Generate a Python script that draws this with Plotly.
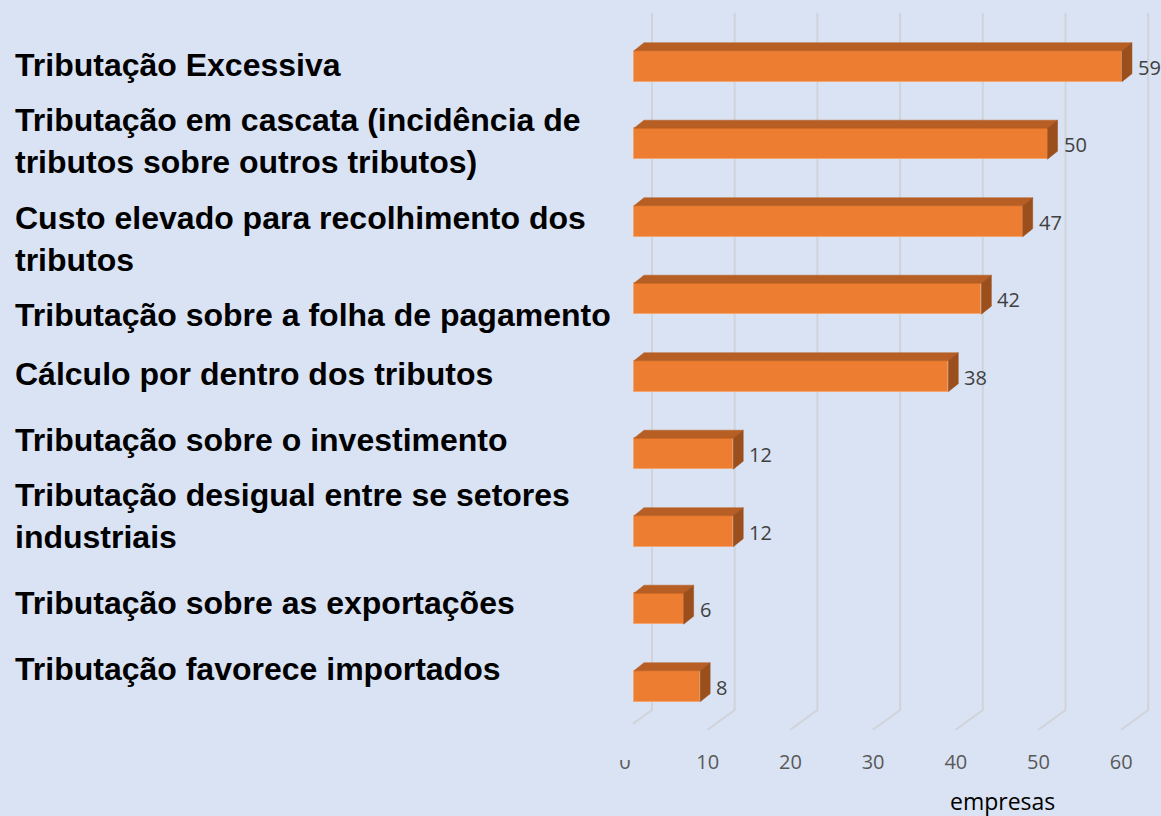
import plotly.graph_objects as go

# ---------------- data ----------------
categories = [
    "Tributação Excessiva",
    "Tributação em cascata (incidência de<br>tributos sobre outros tributos)",
    "Custo elevado para recolhimento dos<br>tributos",
    "Tributação sobre a folha de pagamento",
    "Cálculo por dentro dos tributos",
    "Tributação sobre o investimento",
    "Tributação desigual entre se setores<br>industriais",
    "Tributação sobre as exportações",
    "Tributação favorece importados",
]
values = [59, 50, 47, 42, 38, 12, 12, 6, 8]
x_ticks = [0, 10, 20, 30, 40, 50, 60]
x_title = "empresas"

# ---------------- layout constants ----------------
W, H = 1161, 816
BG = "#DAE3F3"
dom_left_px = 633
plot_bottom_px = 730
x_range = [-0.12, 63.72]
y_range = [8.565, -0.854]          # reversed: first category on top
ux = (W - dom_left_px) / (x_range[1] - x_range[0])     # px per x unit
uy = plot_bottom_px / (y_range[0] - y_range[1])         # px per y unit

bar_w = 0.4
depth_dx = 10 / ux
depth_dy = 8 / uy
label_nudge = [1, 3, -18, -16, 2, 14, 15, 6, 17]


def py(px):  # pixel row -> y data value
    return y_range[1] + px / uy


def paper_y(px):  # pixel row -> paper fraction (plot area is 0..plot_bottom_px)
    return 1 - px / plot_bottom_px


idx = list(range(len(values)))

# gridlines (back wall + floor) as shapes below the bars
shapes = []
for t in x_ticks:
    bx = t + 18 / ux
    fx = t - 9.5 / ux
    shapes.append(dict(type="path", xref="x", yref="y", layer="below",
                       path=f"M{bx},{py(13)} L{bx},{py(710)} L{fx},{py(730)}",
                       line=dict(color="#D0D3D9", width=2)))

# top & side faces of pseudo-3D bars
tx, ty, sx, sy = [], [], [], []
for i, v in zip(idx, values):
    top = i - bar_w / 2
    bot = i + bar_w / 2
    tx += [0, v, v + depth_dx, depth_dx, 0, None]
    ty += [top, top, top - depth_dy, top - depth_dy, top, None]
    sx += [v, v + depth_dx, v + depth_dx, v, v, None]
    sy += [top, top - depth_dy, bot - depth_dy, bot, top, None]

fig = go.Figure()
fig.add_trace(go.Bar(x=values, y=idx, orientation="h", width=bar_w,
                     marker=dict(color="#ED7D31", line=dict(color="#F2A570", width=1)),
                     hoverinfo="x", showlegend=False))
fig.add_trace(go.Scatter(x=tx, y=ty, mode="lines", fill="toself",
                         fillcolor="#B65E23", line=dict(color="#B65E23", width=0.5),
                         hoverinfo="skip", showlegend=False))
fig.add_trace(go.Scatter(x=sx, y=sy, mode="lines", fill="toself",
                         fillcolor="#9A4F1D", line=dict(color="#9A4F1D", width=0.5),
                         hoverinfo="skip", showlegend=False))

annotations = []
for i, v in zip(idx, values):
    annotations.append(dict(x=v, y=i, xref="x", yref="y", text=str(v),
                            showarrow=False, xanchor="left", yanchor="middle",
                            xshift=14, yshift=-1,
                            font=dict(family="Open Sans", size=20, color="#404040")))
for i, (c, n) in enumerate(zip(categories, label_nudge)):
    annotations.append(dict(x=13 / W, y=i, xref="paper", yref="y", text=c,
                            showarrow=False, xanchor="left", yanchor="middle",
                            align="left", yshift=n,
                            font=dict(family="Liberation Sans, Arial", size=32,
                                      color="#000000", weight="bold")))
annotations.append(dict(x=1002 / W, y=paper_y(801), xref="paper", yref="paper",
                        text=x_title, showarrow=False, xanchor="center",
                        yanchor="middle",
                        font=dict(family="Open Sans", size=23, color="#000000")))

# hide the upper part of the "0" tick label as in the reference
shapes.append(dict(type="rect", xref="paper", yref="paper", layer="above",
                   x0=612 / W, x1=633 / W, y0=paper_y(760), y1=paper_y(740),
                   fillcolor=BG, line=dict(width=0)))

fig.update_layout(
    width=W, height=H,
    margin=dict(l=0, r=0, t=0, b=H - plot_bottom_px, pad=0, autoexpand=False),
    paper_bgcolor=BG, plot_bgcolor=BG,
    bargap=0,
    xaxis=dict(domain=[dom_left_px / W, 1], range=x_range, showgrid=False,
               zeroline=False, showline=False, tickvals=x_ticks,
               ticks="", ticklabelshift=-9, ticklabelstandoff=18,
               tickfont=dict(family="Open Sans", size=20, color="#595959"),
               fixedrange=True, automargin=False),
    yaxis=dict(range=y_range, showgrid=False, zeroline=False, showline=False,
               showticklabels=False, ticks="", fixedrange=True, automargin=False),
    annotations=annotations,
    shapes=shapes,
)

fig.write_html("out.html",
               config={"displayModeBar": False},
               post_script="document.body.style.margin='0';"
                           "document.body.style.overflow='hidden';")
